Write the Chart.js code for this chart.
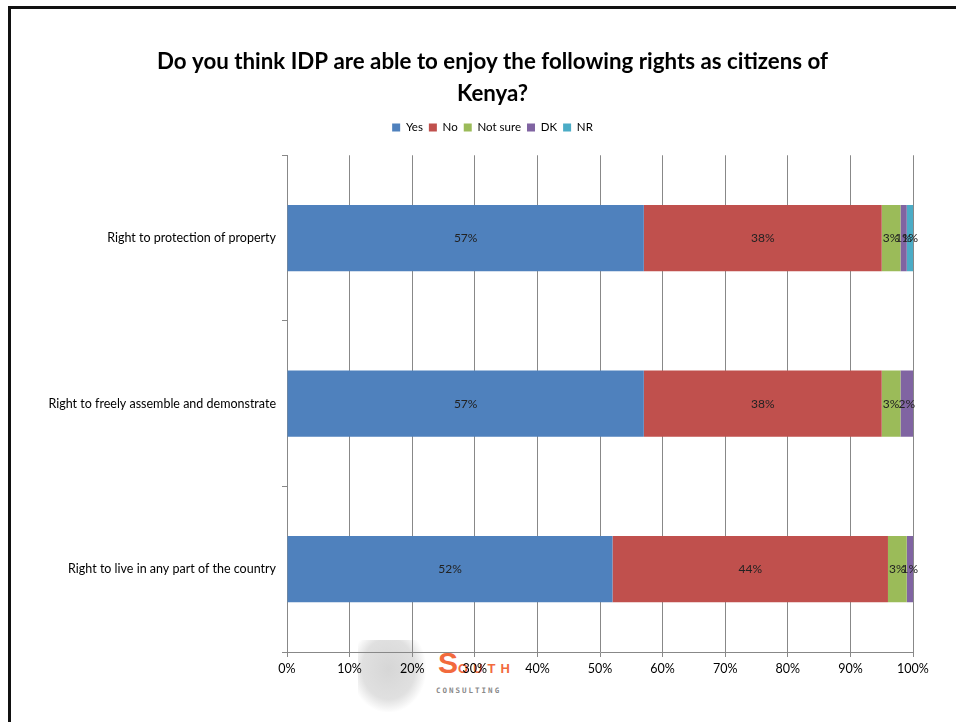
<!DOCTYPE html>
<html>
<head>
<meta charset="utf-8">
<script src="https://cdn.jsdelivr.net/npm/chart.js@4/dist/chart.umd.min.js"></script>
<style>
  html, body { margin: 0; padding: 0; background: #fff; }
  #wrap { position: relative; width: 956px; height: 722px; overflow: hidden; }
  #frame { position: absolute; left: 8px; top: 6px; width: 960px; height: 730px;
           border-left: 3px solid #111; border-top: 3px solid #111; box-sizing: border-box; }
  #globe { position: absolute; left: 358px; top: 640px; width: 68px; height: 72px;
           background: radial-gradient(ellipse at 45% 40%, #d6d6d6 0%, #e0e0e0 50%, rgba(255,255,255,0) 72%); }
  #south { position: absolute; left: 438px; top: 646px; font-family: "Liberation Sans", sans-serif;
           font-weight: bold; color: #f26a3d; }
  #south .big { font-size: 30px; }
  #south .small { font-size: 13px; letter-spacing: 5px; }
  #consult { position: absolute; left: 436px; top: 686px; font-family: "DejaVu Sans Mono", monospace;
             font-size: 7.5px; color: #8a8a8a; letter-spacing: 2px; font-weight: bold; }
  canvas { position: absolute; left: 0; top: 0; }
</style>
</head>
<body>
<div id="wrap">
  <div id="frame"></div>
  <div id="globe"></div>
  <div id="south"><span class="big">S</span><span class="small">OUTH</span></div>
  <div id="consult">CONSULTING</div>
  <canvas id="c" width="956" height="722"></canvas>
</div>
<script>
const categories = [
  "Right to protection of property",
  "Right to freely assemble and demonstrate",
  "Right to live in any part of the country"
];
const seriesNames = ["Yes", "No", "Not sure", "DK", "NR"];
const yesValues     = [57, 57, 52];
const noValues      = [38, 38, 44];
const notSureValues = [3, 3, 3];
const dkValues      = [1, 2, 1];
const nrValues      = [1, 0, 0];
const xTicks = [0, 10, 20, 30, 40, 50, 60, 70, 80, 90, 100];
const colors = ["#4F81BD", "#C0504D", "#9BBB59", "#8064A2", "#4BACC6"];

const seriesValues = [yesValues, noValues, notSureValues, dkValues, nrValues];
const FONT = 'Lato, "Open Sans", sans-serif';

const barLabels = {
  id: 'barLabels',
  afterDatasetsDraw(chart) {
    const ctx = chart.ctx;
    ctx.save();
    ctx.font = '12px ' + FONT;
    ctx.fillStyle = '#222';
    ctx.textAlign = 'center';
    ctx.textBaseline = 'middle';
    chart.data.datasets.forEach((ds, di) => {
      const meta = chart.getDatasetMeta(di);
      meta.data.forEach((el, i) => {
        const v = ds.data[i];
        if (!v) return;
        const cx = (el.x + el.base) / 2;
        ctx.fillText(v + '%', cx, el.y);
      });
    });
    ctx.restore();
  }
};

const boxTweaks = {
  id: 'boxTweaks',
  beforeInit(chart) {
    const lg = chart.legend;
    if (!lg) return;
    const orig = lg.fit;
    lg.fit = function () { orig.call(this); this.height += 12; };
  },
  afterLayout(chart) {
    const d = 16;
    [chart.titleBlock, chart.legend].forEach(b => {
      if (b) { b.left += d; b.right += d; }
    });
    if (chart.legend && chart.legend.adjustHitBoxes) chart.legend.adjustHitBoxes();
  }
};

new Chart(document.getElementById('c'), {
  type: 'bar',
  data: {
    labels: categories,
    datasets: seriesNames.map((name, i) => ({
      label: name,
      data: seriesValues[i],
      backgroundColor: colors[i],
      borderWidth: 0,
      barPercentage: 0.8,
      categoryPercentage: 0.5
    }))
  },
  options: {
    indexAxis: 'y',
    responsive: false,
    animation: false,
    devicePixelRatio: 1,
    layout: { padding: { left: 40, right: 43, top: 46, bottom: 42 } },
    plugins: {
      title: {
        display: true,
        text: ["Do you think IDP are able to enjoy the following rights as citizens of", "Kenya?"],
        color: '#000',
        font: { family: FONT, size: 22.3, weight: 'bold', lineHeight: 1.43 },
        padding: { top: 0, bottom: 6 }
      },
      legend: {
        display: true,
        labels: {
          boxWidth: 8, boxHeight: 8, padding: 6,
          color: '#000',
          font: { family: FONT, size: 11.5 }
        }
      },
      tooltip: { enabled: false }
    },
    scales: {
      x: {
        stacked: true,
        min: 0, max: 100,
        afterBuildTicks(scale) { scale.ticks = xTicks.map(v => ({ value: v })); },
        ticks: {
          callback: v => v + '%',
          color: '#000',
          font: { family: FONT, size: 12.5 },
          padding: 4,
          maxRotation: 0
        },
        grid: { color: '#888', lineWidth: 1, tickLength: 5, drawTicks: true },
        border: { color: '#888', width: 1 }
      },
      y: {
        stacked: true,
        afterFit(scale) { scale.width = 247; },
        ticks: {
          color: '#000',
          font: { family: FONT, size: 12.5 },
          padding: 6
        },
        grid: { offset: true, drawOnChartArea: false, drawTicks: true, tickLength: 5, color: '#888' },
        border: { color: '#888', width: 1 }
      }
    }
  },
  plugins: [barLabels, boxTweaks]
});
</script>
</body>
</html>
